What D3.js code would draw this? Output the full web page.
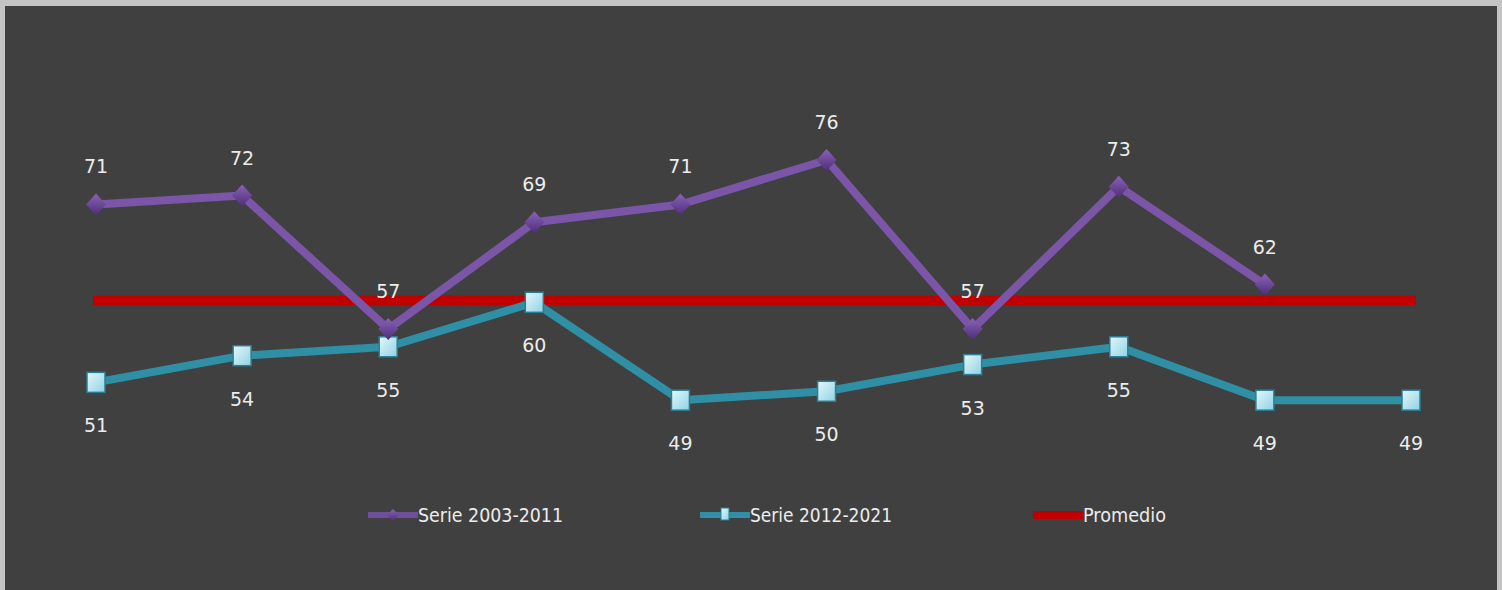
<!DOCTYPE html>
<html><head><meta charset="utf-8">
<script src="https://cdn.jsdelivr.net/npm/d3@7"></script>
<style>
html,body{margin:0;padding:0;background:#c4c4c4;}
svg{display:block;}
</style></head>
<body>
<svg id="chart" width="1502" height="590"></svg>
<script>
const categories = ["1","2","3","4","5","6","7","8","9","10"];
const serie2003 = [71, 72, 57, 69, 71, 76, 57, 73, 62];
const serie2012 = [51, 54, 55, 60, 49, 50, 53, 55, 49, 49];
const promedio = 60.2;
const legendLabels = ["Serie 2003-2011", "Serie 2012-2021", "Promedio"];

const svg = d3.select("#chart");
const defs = svg.append("defs");
const gp = defs.append("linearGradient").attr("id","gp").attr("x1",0).attr("y1",0).attr("x2",0).attr("y2",1);
gp.append("stop").attr("offset","0%").attr("stop-color","#8a62b8");
gp.append("stop").attr("offset","100%").attr("stop-color","#4e2e78");
const gt = defs.append("linearGradient").attr("id","gt").attr("x1",0).attr("y1",0).attr("x2",1).attr("y2",1);
gt.append("stop").attr("offset","0%").attr("stop-color","#e4f7fb");
gt.append("stop").attr("offset","100%").attr("stop-color","#8fd2e4");

svg.append("rect").attr("x",5).attr("y",6).attr("width",1492).attr("height",584).attr("fill","#404040");

const x = d3.scalePoint().domain(categories).range([96, 1411]);
const y = d3.scaleLinear().domain([57, 76]).range([329, 160]);

// Promedio line
svg.append("line").attr("x1", x(categories[0]) - 3).attr("x2", x(categories[9]) + 5)
  .attr("y1", y(promedio)).attr("y2", y(promedio))
  .attr("stroke", "#c00000").attr("stroke-width", 10);

const line = d3.line().x((d,i)=>x(categories[i])).y(d=>y(d));

// Teal series
svg.append("path").datum(serie2012).attr("d", line).attr("fill","none")
  .attr("stroke","#2f8fa5").attr("stroke-width",8).attr("stroke-linejoin","round");
// Purple series
svg.append("path").datum(serie2003).attr("d", line).attr("fill","none")
  .attr("stroke","#7a55a8").attr("stroke-width",8).attr("stroke-linejoin","round");

// Teal markers
svg.selectAll(".sq").data(serie2012).enter().append("rect")
  .attr("x",(d,i)=>x(categories[i])-9).attr("y",d=>y(d)-10)
  .attr("width",18).attr("height",20)
  .attr("fill","url(#gt)").attr("stroke","#2a7f93").attr("stroke-width",1.5);
// Purple markers
svg.selectAll(".dm").data(serie2003).enter().append("path")
  .attr("d",(d,i)=>{const cx=x(categories[i]), cy=y(d); return `M${cx},${cy-11}L${cx+10},${cy}L${cx},${cy+11}L${cx-10},${cy}Z`;})
  .attr("fill","url(#gp)");

const lab = {"font-family":"DejaVu Sans, Verdana, sans-serif","font-size":"19px","fill":"#ececec","text-anchor":"middle"};
function applyAttrs(sel,o){for(const k in o) sel.attr(k,o[k]); return sel;}

applyAttrs(svg.selectAll(".lp").data(serie2003).enter().append("text"), lab)
  .attr("x",(d,i)=>x(categories[i])).attr("y",d=>y(d)-31).text(d=>d);
applyAttrs(svg.selectAll(".lt").data(serie2012).enter().append("text"), lab)
  .attr("x",(d,i)=>x(categories[i])).attr("y",d=>y(d)+50).text(d=>d);

// Legend
const legX = [368, 700, 1033];
const legW = [145, 142, 83];
const legColors = ["#6f4f98","#2f8fa5","#c00000"];
const legFont = "'DejaVu Sans Condensed', 'Liberation Sans Narrow', sans-serif";
legendLabels.forEach((t,i)=>{
  const g = svg.append("g");
  g.append("line").attr("x1",legX[i]).attr("x2",legX[i]+50).attr("y1",515).attr("y2",515)
    .attr("stroke",legColors[i]).attr("stroke-width",i===2?8:6);
  if(i===0){
    g.append("path").attr("d",`M${legX[i]+25},509L${legX[i]+31},515L${legX[i]+25},521L${legX[i]+19},515Z`).attr("fill","url(#gp)");
  } else if(i===1){
    g.append("rect").attr("x",legX[i]+21).attr("y",508).attr("width",8).attr("height",12).attr("fill","url(#gt)").attr("stroke","#2a7f93");
  }
  g.append("text").attr("x",legX[i]+50).attr("y",522).attr("font-family",legFont).attr("font-size","19px")
    .attr("textLength",legW[i]).attr("lengthAdjust","spacingAndGlyphs")
    .attr("fill","#ececec").text(t);
});
</script>
</body></html>
